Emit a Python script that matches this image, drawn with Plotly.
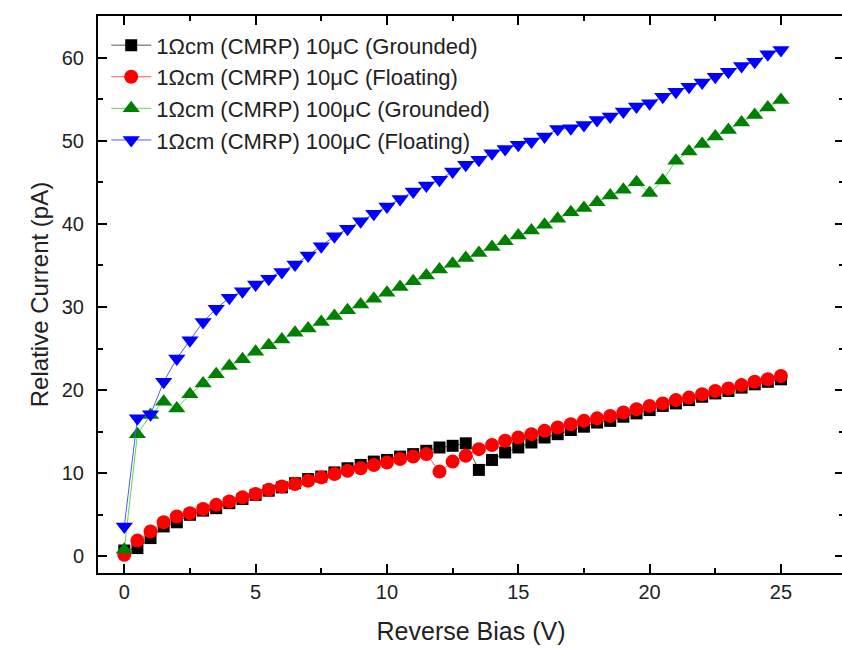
import plotly.graph_objects as go

bias = [i * 0.5 for i in range(51)]

g10 = [0.7, 1.0, 2.2, 3.6, 4.1, 5.0, 5.5, 5.8, 6.4, 6.9, 7.4, 7.9, 8.3, 8.8, 9.3, 9.6,
       10.1, 10.6, 11.0, 11.4, 11.6, 12.0, 12.3, 12.7, 13.1, 13.3, 13.6, 10.4, 11.6, 12.5,
       13.1, 13.7, 14.3, 14.7, 15.2, 15.6, 16.1, 16.3, 16.8, 17.2, 17.6, 18.1, 18.4, 18.8,
       19.2, 19.6, 19.9, 20.3, 20.7, 21.0, 21.3]
f10 = [0.2, 1.9, 3.0, 4.1, 4.8, 5.2, 5.7, 6.2, 6.6, 7.1, 7.5, 8.0, 8.4, 8.7, 9.1, 9.5,
       9.9, 10.3, 10.6, 11.0, 11.3, 11.7, 12.0, 12.3, 10.2, 11.4, 12.1, 12.9, 13.4, 13.9,
       14.3, 14.7, 15.1, 15.5, 15.9, 16.3, 16.6, 16.9, 17.3, 17.7, 18.1, 18.4, 18.8, 19.1,
       19.5, 19.9, 20.2, 20.6, 21.0, 21.3, 21.7]
g100 = [0.8, 14.7, 17.0, 18.6, 17.8, 19.5, 20.8, 21.9, 22.9, 23.7, 24.6, 25.4, 26.1, 26.9,
        27.4, 28.2, 28.9, 29.6, 30.3, 31.0, 31.7, 32.4, 33.1, 33.8, 34.5, 35.2, 35.9, 36.5,
        37.2, 37.9, 38.6, 39.2, 39.9, 40.6, 41.4, 41.9, 42.6, 43.4, 44.1, 45.0, 43.7, 45.2,
        47.6, 48.7, 49.6, 50.5, 51.3, 52.2, 53.1, 54.0, 54.9]
f100 = [3.6, 16.6, 17.1, 21.0, 23.8, 26.0, 28.2, 29.8, 31.1, 31.9, 32.7, 33.4, 34.2, 35.1,
        36.2, 37.3, 38.5, 39.4, 40.3, 41.2, 42.1, 43.0, 43.9, 44.6, 45.3, 46.3, 47.1, 47.7,
        48.5, 49.0, 49.5, 49.9, 50.5, 51.4, 51.5, 51.9, 52.5, 52.9, 53.5, 54.1, 54.5, 55.3,
        55.9, 56.5, 57.0, 57.7, 58.3, 59.0, 59.5, 60.4, 60.9]

names = ["1\u03a9cm (CMRP) 10\u03bcC (Grounded)",
         "1\u03a9cm (CMRP) 10\u03bcC (Floating)",
         "1\u03a9cm (CMRP) 100\u03bcC (Grounded)",
         "1\u03a9cm (CMRP) 100\u03bcC (Floating)"]
series = [g10, f10, g100, f100]
marker_colors = ["#000000", "#ff0000", "#008000", "#0000ff"]
line_colors = ["#555555", "#ff5555", "#55dd55", "#5555ff"]
symbols = ["square", "circle", "triangle-up", "triangle-down"]
sizes = [12, 14, 15, 15]

x_range = [-1.0, 27.4]
y_range = [-2.0, 65.0]
x_major = [0, 5, 10, 15, 20, 25]
x_minor = [2.5, 7.5, 12.5, 17.5, 22.5]
y_major = [0, 10, 20, 30, 40, 50, 60]
y_minor = [5, 15, 25, 35, 45, 55]

fig = go.Figure()
for name, ys, mc, lc, sym, sz in zip(names, series, marker_colors, line_colors, symbols, sizes):
    fig.add_trace(go.Scatter(
        x=bias, y=ys, name=name, mode="lines+markers",
        line=dict(color=lc, width=1),
        marker=dict(symbol=sym, size=sz, color=mc, line=dict(width=0)),
    ))

tick_style = dict(ticks="inside", ticklen=9, tickwidth=2, tickcolor="black")
minor_style = dict(ticks="inside", ticklen=5, tickwidth=2, tickcolor="black")

font_family = "Arial, Liberation Sans, sans-serif"
fig.update_layout(
    width=846, height=651,
    margin=dict(l=98, r=2, t=16, b=78, autoexpand=False),
    paper_bgcolor="white", plot_bgcolor="white",
    font=dict(family=font_family, color="#222222", size=20),
    showlegend=True,
    legend=dict(x=0.011, y=0.985, xanchor="left", yanchor="top",
                bgcolor="rgba(0,0,0,0)", font=dict(size=22, color="#222222"),
                itemwidth=40, tracegroupgap=0),
    xaxis=dict(
        range=x_range, tickmode="array", tickvals=x_major, **tick_style,
        minor=dict(tickmode="array", tickvals=x_minor, **minor_style),
        showline=True, linecolor="black", linewidth=2, mirror="allticks",
        showgrid=False, zeroline=False, automargin=False,
        title=dict(text="Reverse Bias (V)", font=dict(size=25), standoff=20),
        tickfont=dict(size=20),
    ),
    yaxis=dict(
        range=y_range, tickmode="array", tickvals=y_major, **tick_style,
        minor=dict(tickmode="array", tickvals=y_minor, **minor_style),
        showline=True, linecolor="black", linewidth=2, mirror="allticks",
        showgrid=False, zeroline=False, automargin=False,
        ticklabelstandoff=8,
        title=dict(text="Relative Current (pA)", font=dict(size=24), standoff=6),
        tickfont=dict(size=20),
    ),
)

fig.write_html("out.html",
               config={"displayModeBar": False},
               post_script="document.body.style.margin='0';document.body.style.overflow='hidden';")
